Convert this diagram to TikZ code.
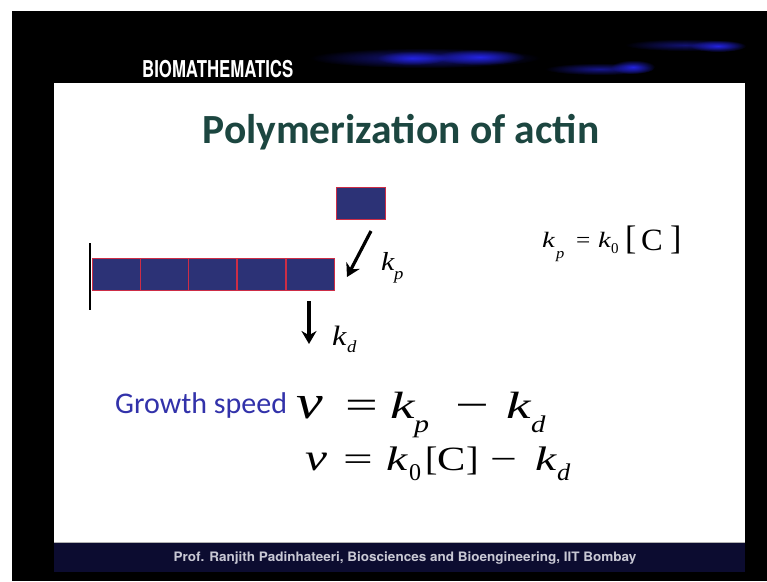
\documentclass[tikz,border=0pt]{standalone}
\usepackage{fontspec}
\setmainfont{Liberation Serif}
\newfontfamily\calibri{Carlito}
\newfontfamily\heros{TeX Gyre Heros}
\usetikzlibrary{arrows.meta,fadings}
\tikzfading[name=glow, inner color=transparent!0, outer color=transparent!100]
\definecolor{slidebg}{RGB}{0,0,0}
\definecolor{footnavy}{RGB}{12,12,48}
\definecolor{titleteal}{RGB}{28,70,64}
\definecolor{growblue}{RGB}{50,50,170}
\definecolor{monofill}{RGB}{44,50,118}
\definecolor{monoedge}{RGB}{205,45,70}
\definecolor{footgray}{RGB}{200,200,212}
\definecolor{streak}{RGB}{40,40,255}
\newcommand{\gl}[3]{\scalebox{#2}[1]{\fontsize{#1}{#1}\selectfont #3}}
\tikzset{
  mono/.style={draw=monoedge, fill=monofill, line width=1pt, minimum width=48pt, minimum height=32pt, inner sep=0pt},
  rate/.style={-{Stealth[length=13pt,width=15pt]}, line width=3.2pt, black},
  glyph/.style={anchor=base west, inner sep=0pt},
  glowfill/.style={fill=streak, path fading=glow},
}
\begin{document}
\begin{tikzpicture}[x=1pt,y=-1pt]
\useasboundingbox (0,0) rectangle (767,581);
% frame
\fill[slidebg] (12,11) rectangle (767,581);
% header streaks
\fill[glowfill, opacity=0.55] (425,58) ellipse (115 and 10);
\fill[glowfill, opacity=0.85] (480,57) ellipse (45 and 8);
\fill[glowfill, opacity=0.75] (412,58) ellipse (35 and 7);
\fill[glowfill, opacity=0.55] (600,69) ellipse (55 and 6);
\fill[glowfill, opacity=0.85] (633,67) ellipse (22 and 7);
\fill[glowfill, opacity=0.45] (685,45) ellipse (60 and 6);
\fill[glowfill, opacity=0.85] (718,46) ellipse (28 and 6);
\node[anchor=base west, inner sep=0pt, text=white] (hdr) at (142,77)
  {\scalebox{0.78}[1.08]{\heros\bfseries\fontsize{21.5}{22}\selectfont BIOMATHEMATICS}};
% slide
\fill[white] (54,83) rectangle (745,542);
\fill[footnavy] (54,542) rectangle (745,572);
\draw[gray!60, line width=0.8pt] (54,542) -- (745,542);
\node[anchor=base, inner sep=0pt, text=footgray] (foot) at (405,561)
  {\scalebox{1.04}[1]{\heros\bfseries\fontsize{13}{14}\selectfont Prof. Ranjith Padinhateeri, Biosciences and Bioengineering, IIT Bombay}};
% title
\node[anchor=base, inner sep=0pt, text=titleteal] (title) at (401,143)
  {\calibri\bfseries\fontsize{41.5}{43}\selectfont Polymerization of actin};
% filament
\draw[line width=2.8pt, black] (90,243) -- (90,310);
\node[mono] (m1) at (116,274.5) {};
\node[mono] (m2) at (164,274.5) {};
\node[mono] (m3) at (212.5,274.5) {};
\node[mono] (m4) at (261.5,274.5) {};
\node[mono] (m5) at (310,274.5) {};
\node[mono, minimum width=49pt] (free) at (361,203.5) {};
% arrows
\coordinate (kpS) at (371,231);
\coordinate (kpE) at (347,277);
\draw[rate] (kpS) -- (kpE);
\node[glyph] (kpk) at (381,270) {\gl{26}{1.15}{\itshape k}};
\node[glyph] (kpp) at (394,279) {\gl{17}{1.1}{\itshape p}};
\coordinate (kdS) at (309,301);
\coordinate (kdE) at (309,344);
\draw[rate] (kdS) -- (kdE);
\node[glyph] (kdk) at (332,345) {\gl{28}{1.15}{\itshape k}};
\node[glyph] (kdd) at (347,352) {\gl{17}{1.1}{\itshape d}};
% right equation
\node[glyph] (rk)  at (542,247) {\gl{22}{1.3}{\itshape k}};
\node[glyph] (rp)  at (556,258) {\gl{15}{1.1}{\itshape p}};
\node[glyph] (req) at (576,247) {\gl{22}{1.15}{=}};
\node[glyph] (rk0) at (598,247) {\gl{22}{1.3}{\itshape k}};
\node[glyph] (r0)  at (611,253) {\gl{15}{1.0}{0}};
\node[glyph] (rlb) at (625,249) {\gl{34}{1.0}{[}};
\node[glyph] (rC)  at (641,250) {\gl{31}{1.05}{C}};
\node[glyph] (rrb) at (670,249) {\gl{34}{1.0}{]}};
% growth speed
\node[anchor=base west, inner sep=0pt, text=growblue] (gs) at (115,413)
  {\calibri\fontsize{30}{31}\selectfont Growth speed};
% equation 1
\node[glyph] (e1v)  at (296,418) {\gl{48}{1.25}{\itshape v}};
\node[glyph] (e1eq) at (345,418) {\gl{40}{1.45}{=}};
\node[glyph] (e1k)  at (390,418) {\gl{38}{1.45}{\itshape k}};
\node[glyph] (e1p)  at (414,432) {\gl{25}{1.2}{\itshape p}};
\node[glyph] (e1m)  at (455,418) {\gl{40}{1.5}{−}};
\node[glyph] (e1k2) at (506,418) {\gl{38}{1.45}{\itshape k}};
\node[glyph] (e1d)  at (531,432) {\gl{24}{1.2}{\itshape d}};
% equation 2
\node[glyph] (e2v)  at (305,470) {\gl{38}{1.3}{\itshape v}};
\node[glyph] (e2eq) at (343,470) {\gl{34}{1.55}{=}};
\node[glyph] (e2k)  at (386,470) {\gl{34}{1.4}{\itshape k}};
\node[glyph] (e20)  at (409,480) {\gl{24}{1.0}{0}};
\node[glyph] (e2lb) at (425,470) {\gl{34}{1.1}{[}};
\node[glyph] (e2C)  at (437,470) {\gl{34}{1.25}{C}};
\node[glyph] (e2rb) at (466,470) {\gl{34}{1.1}{]}};
\node[glyph] (e2m)  at (490,470) {\gl{34}{1.4}{−}};
\node[glyph] (e2k2) at (535,470) {\gl{34}{1.4}{\itshape k}};
\node[glyph] (e2d)  at (557,480) {\gl{24}{1.1}{\itshape d}};
\end{tikzpicture}
\end{document}
